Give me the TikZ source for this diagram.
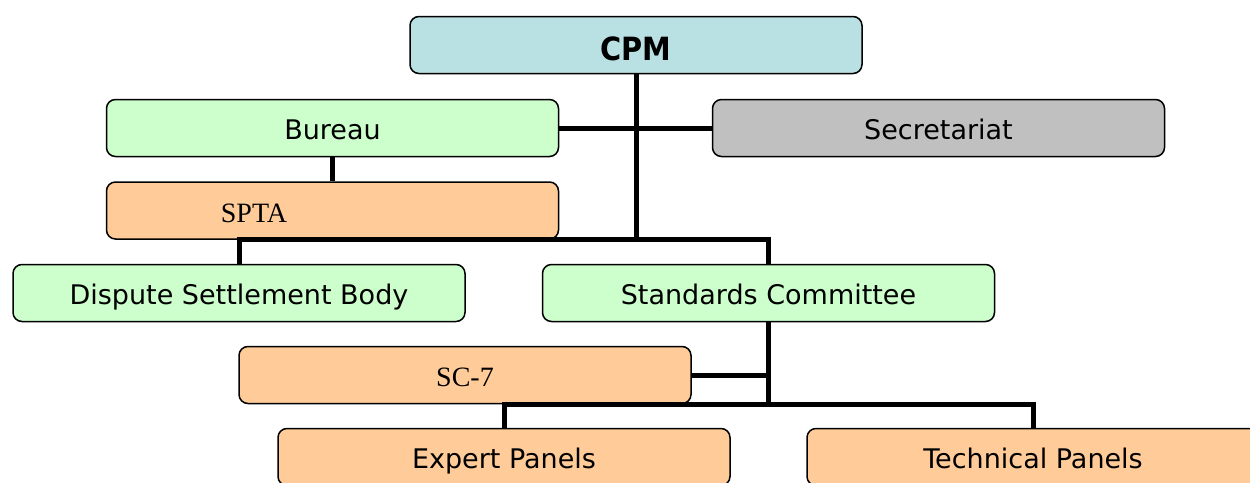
\documentclass[tikz,border=0pt]{standalone}
\usepackage{fontspec}
\setmainfont{DejaVu Sans}
\newfontfamily\timesfont{Liberation Serif}
\newfontfamily\cpmfont{DejaVu Sans}[FakeStretch=0.9]

\definecolor{cpmblue}{HTML}{B9E0E3}
\definecolor{boxgreen}{HTML}{CCFFCC}
\definecolor{boxgrey}{HTML}{C0C0C0}
\definecolor{boxorange}{HTML}{FFCC99}

\tikzset{
  orgbox/.style={draw=black, line width=1.5pt, rounded corners=9pt,
    minimum width=452pt, minimum height=57pt, inner sep=0pt,
    text height=22pt, text depth=0pt,
    font=\fontsize{27}{30}\selectfont},
  greenbox/.style={orgbox, fill=boxgreen},
  greybox/.style={orgbox, fill=boxgrey},
  orangebox/.style={orgbox, fill=boxorange},
  serifname/.style={font=\timesfont\fontsize{28}{30}\selectfont, inner sep=0pt,
    text height=23pt, text depth=0pt},
  conn/.style={line width=5pt}
}

\begin{document}
\begin{tikzpicture}[x=1pt,y=-1pt]
  \useasboundingbox (0,0) rectangle (1250,482);
  \begin{scope}
  \clip (0,0) rectangle (1250,482);
  % boxes
  \node[orgbox, fill=cpmblue, font=\cpmfont\bfseries\fontsize{32}{34}\selectfont,
    text height=30pt] (cpm) at (636,45) {CPM};
  \node[greenbox] (bureau) at (332.5,128) {Bureau};
  \node[greybox] (secr) at (938.5,128) {Secretariat};
  \node[orangebox] (spta) at (332.5,210.5) {};
  \node[serifname] (sptatext) at (254,210.5) {SPTA};
  \node[greenbox] (dsb) at (239,293) {Dispute Settlement Body};
  \node[greenbox] (stc) at (768.5,293) {Standards Committee};
  \node[orangebox] (sc7) at (465,375) {};
  \node[serifname] (sc7text) at (465,375) {SC-7};
  \node[orangebox] (expert) at (504,457) {Expert Panels};
  \node[orangebox] (tech) at (1033,457) {Technical Panels};
  \end{scope}
  % connectors
  \draw[conn] (cpm.south) -- (cpm.south |- spta.south);
  \draw[conn] (bureau.east) -- (secr.west);
  \draw[conn] (bureau.south) -- (spta.north);
  \draw[conn] (dsb.north) -- (dsb.north |- spta.south) -| (stc.north);
  \draw[conn] (stc.south) -- (stc.south |- sc7.south);
  \draw[conn] (sc7.east) -- (sc7.east -| stc.south);
  \draw[conn] (expert.north) -- (expert.north |- sc7.south) -| (tech.north);
\end{tikzpicture}
\end{document}
